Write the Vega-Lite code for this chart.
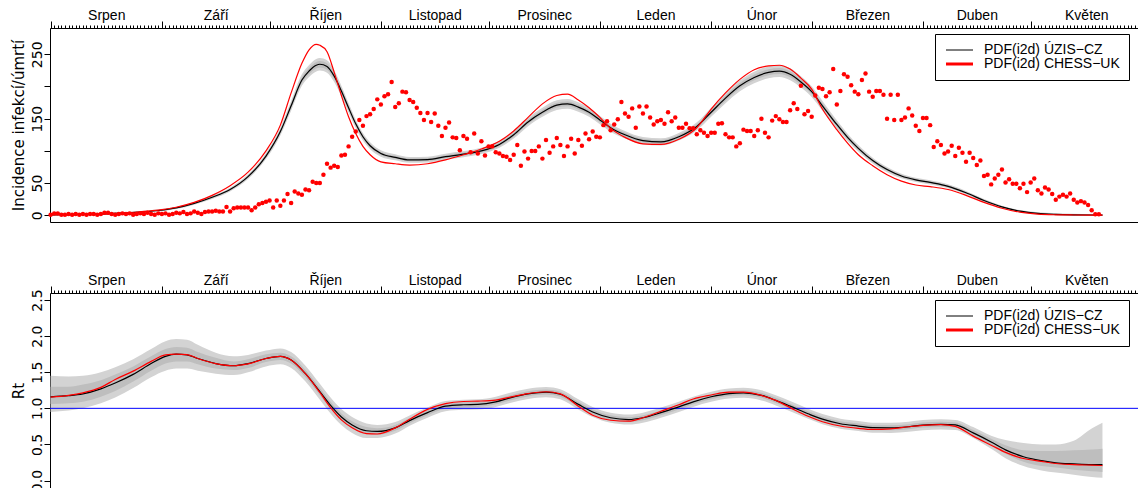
{
  "$schema": "https://vega.github.io/schema/vega-lite/v6.json",
  "padding": {"left": 10, "top": 8, "right": 0, "bottom": 0},
  "spacing": 71,
  "bounds": "flush",
  "config": {
    "font": "Liberation Sans",
    "view": {"stroke": null},
    "axis": {"grid": false, "domainColor": "black", "tickColor": "black", "labelColor": "black", "titleColor": "black", "labelFont": "Liberation Sans", "titleFont": "Liberation Sans", "labelFontSize": 14, "titleFontSize": 14, "titleFontWeight": "normal", "domainWidth": 1, "tickWidth": 1, "labelFlush": false, "labelOverlap": false, "labelBound": false},
    "axisY": {"labelFont": "DejaVu Sans", "labelFontSize": 14, "titleFont": "DejaVu Sans", "titleFontSize": 15}
  },
  "resolve": {"scale": {"color": "independent"}},
  "datasets": {
    "inc": [
      {"date":"2020-08-01","blk":0.8,"red":0.8,"olo":-0.7,"ohi":2.3,"ilo":0.1,"ihi":1.5},
      {"date":"2020-08-06","blk":1.0,"red":1.0,"olo":-0.5,"ohi":2.5,"ilo":0.3,"ihi":1.7},
      {"date":"2020-08-11","blk":1.5,"red":1.5,"olo":-0.1,"ohi":3.1,"ilo":0.8,"ihi":2.2},
      {"date":"2020-08-16","blk":2.2,"red":2.3,"olo":0.6,"ohi":3.8,"ilo":1.5,"ihi":2.9},
      {"date":"2020-08-21","blk":3.3,"red":3.5,"olo":1.7,"ohi":4.9,"ilo":2.5,"ihi":4.1},
      {"date":"2020-08-26","blk":5.0,"red":5.5,"olo":3.3,"ohi":6.7,"ilo":4.2,"ihi":5.8},
      {"date":"2020-08-31","blk":7.5,"red":8.0,"olo":5.7,"ohi":9.3,"ilo":6.7,"ihi":8.3},
      {"date":"2020-09-05","blk":11.5,"red":12.5,"olo":9.6,"ohi":13.4,"ilo":10.6,"ihi":12.4},
      {"date":"2020-09-10","blk":18.5,"red":20,"olo":16.4,"ohi":20.7,"ilo":17.5,"ihi":19.5},
      {"date":"2020-09-15","blk":28,"red":31,"olo":25.5,"ohi":30.5,"ilo":26.8,"ihi":29.2},
      {"date":"2020-09-20","blk":40,"red":46,"olo":37.1,"ohi":42.9,"ilo":38.6,"ihi":41.4},
      {"date":"2020-09-25","blk":60,"red":67,"olo":56.4,"ohi":63.6,"ilo":58.2,"ihi":61.8},
      {"date":"2020-09-30","blk":92,"red":100,"olo":87.3,"ohi":96.7,"ilo":89.6,"ihi":94.4},
      {"date":"2020-10-04","blk":130,"red":140,"olo":124,"ohi":136,"ilo":127,"ihi":133},
      {"date":"2020-10-07","blk":170,"red":190,"olo":162.5,"ohi":177.5,"ilo":166.2,"ihi":173.8},
      {"date":"2020-10-10","blk":210,"red":236,"olo":201.2,"ohi":218.9,"ilo":205.5,"ihi":214.5},
      {"date":"2020-10-12","blk":224,"red":257,"olo":214.7,"ohi":233.3,"ilo":219.3,"ihi":228.7},
      {"date":"2020-10-14","blk":233,"red":265.5,"olo":223.3,"ohi":242.7,"ilo":228.1,"ihi":237.9},
      {"date":"2020-10-15","blk":234.5,"red":264,"olo":224.8,"ohi":244.2,"ilo":229.6,"ihi":239.4},
      {"date":"2020-10-17","blk":231,"red":254,"olo":221.4,"ohi":240.6,"ilo":226.1,"ihi":235.9},
      {"date":"2020-10-19","blk":216,"red":222,"olo":206.9,"ohi":225.1,"ilo":211.4,"ihi":220.6},
      {"date":"2020-10-21","blk":193,"red":186,"olo":184.7,"ohi":201.3,"ilo":188.8,"ihi":197.2},
      {"date":"2020-10-23","blk":167,"red":153,"olo":159.7,"ohi":174.4,"ilo":163.3,"ihi":170.7},
      {"date":"2020-10-25","blk":142,"red":127,"olo":135.5,"ohi":148.5,"ilo":138.7,"ihi":145.3},
      {"date":"2020-10-27","blk":122,"red":107,"olo":116.2,"ohi":127.8,"ilo":119.1,"ihi":124.9},
      {"date":"2020-10-29","blk":108,"red":94,"olo":102.7,"ohi":113.3,"ilo":105.4,"ihi":110.6},
      {"date":"2020-11-01","blk":96,"red":83,"olo":91.1,"ohi":100.9,"ilo":93.6,"ihi":98.4},
      {"date":"2020-11-05","blk":90,"red":80,"olo":85.4,"ohi":94.7,"ilo":87.7,"ihi":92.3},
      {"date":"2020-11-09","blk":86,"red":78,"olo":81.5,"ohi":90.5,"ilo":83.8,"ihi":88.3},
      {"date":"2020-11-14","blk":86.5,"red":80,"olo":82,"ohi":91,"ilo":84.2,"ihi":88.8},
      {"date":"2020-11-19","blk":91,"red":86,"olo":86.3,"ohi":95.7,"ilo":88.7,"ihi":93.3},
      {"date":"2020-11-24","blk":95,"red":94,"olo":90.2,"ohi":99.8,"ilo":92.6,"ihi":97.4},
      {"date":"2020-11-29","blk":100,"red":103,"olo":95,"ohi":105,"ilo":97.5,"ihi":102.5},
      {"date":"2020-12-04","blk":110,"red":115,"olo":104.7,"ohi":115.4,"ilo":107.3,"ihi":112.7},
      {"date":"2020-12-08","blk":125,"red":131,"olo":119.1,"ohi":130.9,"ilo":122,"ihi":128},
      {"date":"2020-12-12","blk":145,"red":152,"olo":138.4,"ohi":151.6,"ilo":141.7,"ihi":148.3},
      {"date":"2020-12-16","blk":160,"red":173,"olo":152.9,"ohi":167.1,"ilo":156.4,"ihi":163.6},
      {"date":"2020-12-20","blk":171,"red":186,"olo":163.5,"ohi":178.5,"ilo":167.2,"ihi":174.8},
      {"date":"2020-12-23","blk":173,"red":188,"olo":165.4,"ohi":180.6,"ilo":169.2,"ihi":176.8},
      {"date":"2020-12-26","blk":168,"red":179,"olo":160.6,"ohi":175.4,"ilo":164.3,"ihi":171.7},
      {"date":"2020-12-29","blk":160,"red":167,"olo":152.9,"ohi":167.1,"ilo":156.4,"ihi":163.6},
      {"date":"2021-01-01","blk":148,"red":152,"olo":141.3,"ohi":154.7,"ilo":144.6,"ihi":151.4},
      {"date":"2021-01-04","blk":136,"red":135,"olo":129.7,"ohi":142.3,"ilo":132.9,"ihi":139.1},
      {"date":"2021-01-08","blk":125,"red":121,"olo":119.1,"ohi":130.9,"ilo":122,"ihi":128},
      {"date":"2021-01-13","blk":116,"red":111,"olo":110.4,"ohi":121.6,"ilo":113.2,"ihi":118.8},
      {"date":"2021-01-18","blk":114,"red":110,"olo":108.5,"ohi":119.5,"ilo":111.3,"ihi":116.8},
      {"date":"2021-01-23","blk":122,"red":118,"olo":116.2,"ohi":127.8,"ilo":119.1,"ihi":124.9},
      {"date":"2021-01-28","blk":138,"red":136,"olo":131.7,"ohi":144.3,"ilo":134.8,"ihi":141.2},
      {"date":"2021-02-01","blk":160,"red":165,"olo":152.9,"ohi":167.1,"ilo":156.4,"ihi":163.6},
      {"date":"2021-02-05","blk":182,"red":190,"olo":174.1,"ohi":189.9,"ilo":178,"ihi":186},
      {"date":"2021-02-09","blk":201,"red":211,"olo":192.5,"ohi":209.5,"ilo":196.7,"ihi":205.3},
      {"date":"2021-02-13","blk":214,"red":226,"olo":205,"ohi":223,"ilo":209.5,"ihi":218.6},
      {"date":"2021-02-17","blk":222,"red":232,"olo":212.7,"ohi":231.3,"ilo":217.3,"ihi":226.7},
      {"date":"2021-02-20","blk":224,"red":233,"olo":214.7,"ohi":233.3,"ilo":219.3,"ihi":228.7},
      {"date":"2021-02-23","blk":219,"red":227,"olo":209.8,"ohi":228.2,"ilo":214.4,"ihi":223.6},
      {"date":"2021-02-26","blk":207,"red":213,"olo":198.3,"ohi":215.8,"ilo":202.6,"ihi":211.4},
      {"date":"2021-03-01","blk":192,"red":196,"olo":183.8,"ohi":200.2,"ilo":187.8,"ihi":196.2},
      {"date":"2021-03-04","blk":170,"red":165,"olo":162.5,"ohi":177.5,"ilo":166.2,"ihi":173.8},
      {"date":"2021-03-08","blk":141,"red":133,"olo":134.6,"ohi":147.4,"ilo":137.8,"ihi":144.2},
      {"date":"2021-03-11","blk":121,"red":112,"olo":115.3,"ohi":126.7,"ilo":118.1,"ihi":123.9},
      {"date":"2021-03-14","blk":104,"red":94,"olo":98.9,"ohi":109.1,"ilo":101.4,"ihi":106.6},
      {"date":"2021-03-18","blk":85,"red":77,"olo":80.5,"ohi":89.5,"ilo":82.8,"ihi":87.2},
      {"date":"2021-03-22","blk":71,"red":63,"olo":67,"ohi":75,"ilo":69,"ihi":73},
      {"date":"2021-03-26","blk":61,"red":53,"olo":57.4,"ohi":64.6,"ilo":59.2,"ihi":62.8},
      {"date":"2021-03-30","blk":55,"red":47,"olo":51.6,"ohi":58.4,"ilo":53.3,"ihi":56.7},
      {"date":"2021-04-03","blk":51,"red":44.5,"olo":47.7,"ohi":54.3,"ilo":49.4,"ihi":52.6},
      {"date":"2021-04-08","blk":45,"red":40,"olo":41.9,"ohi":48.1,"ilo":43.5,"ihi":46.5},
      {"date":"2021-04-13","blk":35,"red":31,"olo":32.3,"ohi":37.7,"ilo":33.7,"ihi":36.3},
      {"date":"2021-04-18","blk":23,"red":20,"olo":20.7,"ohi":25.3,"ilo":21.9,"ihi":24.1},
      {"date":"2021-04-23","blk":13,"red":11,"olo":11,"ohi":15,"ilo":12.1,"ihi":13.9},
      {"date":"2021-04-28","blk":6.5,"red":4.8,"olo":4.8,"ohi":8.2,"ilo":5.7,"ihi":7.3},
      {"date":"2021-05-03","blk":3,"red":1.8,"olo":1.4,"ohi":4.6,"ilo":2.3,"ihi":3.8},
      {"date":"2021-05-08","blk":1.5,"red":0.8,"olo":-0.1,"ohi":3.1,"ilo":0.8,"ihi":2.2},
      {"date":"2021-05-13","blk":0.8,"red":0.5,"olo":-0.7,"ohi":2.3,"ilo":0.1,"ihi":1.5},
      {"date":"2021-05-18","blk":0.5,"red":0.4,"olo":-1,"ohi":2,"ilo":-0.2,"ihi":1.2},
      {"date":"2021-05-21","blk":0.4,"red":0.3,"olo":-1.1,"ohi":1.9,"ilo":-0.3,"ihi":1.1}
    ],
    "rt": [
      {"date":"2020-08-01","blk":1.16,"red":1.155,"olo":0.95,"ohi":1.45,"ilo":1.06,"ihi":1.30},
      {"date":"2020-08-06","blk":1.175,"red":1.18,"olo":0.97,"ohi":1.44,"ilo":1.07,"ihi":1.30},
      {"date":"2020-08-10","blk":1.20,"red":1.215,"olo":1.00,"ohi":1.45,"ilo":1.09,"ihi":1.33},
      {"date":"2020-08-15","blk":1.27,"red":1.29,"olo":1.07,"ohi":1.50,"ilo":1.16,"ihi":1.39},
      {"date":"2020-08-19","blk":1.35,"red":1.40,"olo":1.15,"ohi":1.57,"ilo":1.24,"ihi":1.47},
      {"date":"2020-08-24","blk":1.47,"red":1.515,"olo":1.28,"ohi":1.68,"ilo":1.37,"ihi":1.58},
      {"date":"2020-08-29","blk":1.62,"red":1.65,"olo":1.43,"ohi":1.82,"ilo":1.52,"ihi":1.72},
      {"date":"2020-09-02","blk":1.72,"red":1.74,"olo":1.52,"ohi":1.93,"ilo":1.62,"ihi":1.82},
      {"date":"2020-09-05","blk":1.75,"red":1.75,"olo":1.55,"ohi":1.96,"ilo":1.65,"ihi":1.85},
      {"date":"2020-09-08","blk":1.74,"red":1.745,"olo":1.55,"ohi":1.95,"ilo":1.65,"ihi":1.84},
      {"date":"2020-09-11","blk":1.69,"red":1.69,"olo":1.52,"ohi":1.88,"ilo":1.61,"ihi":1.78},
      {"date":"2020-09-16","blk":1.62,"red":1.62,"olo":1.48,"ohi":1.77,"ilo":1.55,"ihi":1.70},
      {"date":"2020-09-21","blk":1.59,"red":1.59,"olo":1.46,"ohi":1.72,"ilo":1.53,"ihi":1.65},
      {"date":"2020-09-25","blk":1.62,"red":1.615,"olo":1.50,"ohi":1.74,"ilo":1.56,"ihi":1.68},
      {"date":"2020-09-30","blk":1.69,"red":1.69,"olo":1.58,"ohi":1.80,"ilo":1.64,"ihi":1.75},
      {"date":"2020-10-04","blk":1.72,"red":1.72,"olo":1.61,"ohi":1.83,"ilo":1.67,"ihi":1.77},
      {"date":"2020-10-07","blk":1.67,"red":1.67,"olo":1.56,"ohi":1.78,"ilo":1.62,"ihi":1.72},
      {"date":"2020-10-11","blk":1.48,"red":1.48,"olo":1.37,"ohi":1.59,"ilo":1.43,"ihi":1.53},
      {"date":"2020-10-15","blk":1.23,"red":1.22,"olo":1.12,"ohi":1.34,"ilo":1.18,"ihi":1.28},
      {"date":"2020-10-18","blk":1.04,"red":1.01,"olo":0.93,"ohi":1.15,"ilo":0.99,"ihi":1.09},
      {"date":"2020-10-21","blk":0.88,"red":0.84,"olo":0.77,"ohi":0.99,"ilo":0.83,"ihi":0.93},
      {"date":"2020-10-24","blk":0.77,"red":0.73,"olo":0.66,"ohi":0.88,"ilo":0.72,"ihi":0.82},
      {"date":"2020-10-28","blk":0.69,"red":0.65,"olo":0.59,"ohi":0.79,"ilo":0.64,"ihi":0.74},
      {"date":"2020-10-31","blk":0.68,"red":0.645,"olo":0.59,"ohi":0.77,"ilo":0.635,"ihi":0.725},
      {"date":"2020-11-05","blk":0.73,"red":0.73,"olo":0.65,"ohi":0.81,"ilo":0.69,"ihi":0.77},
      {"date":"2020-11-09","blk":0.83,"red":0.85,"olo":0.76,"ohi":0.90,"ilo":0.795,"ihi":0.865},
      {"date":"2020-11-14","blk":0.94,"red":0.985,"olo":0.87,"ohi":1.01,"ilo":0.905,"ihi":0.975},
      {"date":"2020-11-19","blk":1.03,"red":1.065,"olo":0.96,"ohi":1.10,"ilo":0.995,"ihi":1.065},
      {"date":"2020-11-24","blk":1.05,"red":1.095,"olo":0.98,"ohi":1.12,"ilo":1.015,"ihi":1.085},
      {"date":"2020-11-28","blk":1.055,"red":1.10,"olo":0.985,"ohi":1.125,"ilo":1.02,"ihi":1.09},
      {"date":"2020-12-03","blk":1.09,"red":1.115,"olo":1.02,"ohi":1.16,"ilo":1.055,"ihi":1.125},
      {"date":"2020-12-07","blk":1.145,"red":1.155,"olo":1.075,"ohi":1.215,"ilo":1.11,"ihi":1.18},
      {"date":"2020-12-12","blk":1.20,"red":1.205,"olo":1.13,"ohi":1.27,"ilo":1.165,"ihi":1.235},
      {"date":"2020-12-17","blk":1.225,"red":1.23,"olo":1.155,"ohi":1.295,"ilo":1.19,"ihi":1.26},
      {"date":"2020-12-21","blk":1.195,"red":1.20,"olo":1.125,"ohi":1.265,"ilo":1.16,"ihi":1.23},
      {"date":"2020-12-26","blk":1.055,"red":1.03,"olo":0.985,"ohi":1.125,"ilo":1.02,"ihi":1.09},
      {"date":"2020-12-30","blk":0.95,"red":0.905,"olo":0.88,"ohi":1.02,"ilo":0.915,"ihi":0.985},
      {"date":"2021-01-04","blk":0.87,"red":0.835,"olo":0.80,"ohi":0.94,"ilo":0.835,"ihi":0.905},
      {"date":"2021-01-09","blk":0.845,"red":0.822,"olo":0.775,"ohi":0.915,"ilo":0.81,"ihi":0.88},
      {"date":"2021-01-13","blk":0.87,"red":0.87,"olo":0.80,"ohi":0.94,"ilo":0.835,"ihi":0.905},
      {"date":"2021-01-18","blk":0.94,"red":0.96,"olo":0.87,"ohi":1.01,"ilo":0.905,"ihi":0.975},
      {"date":"2021-01-23","blk":1.02,"red":1.05,"olo":0.95,"ohi":1.09,"ilo":0.985,"ihi":1.055},
      {"date":"2021-01-27","blk":1.09,"red":1.13,"olo":1.02,"ohi":1.16,"ilo":1.055,"ihi":1.125},
      {"date":"2021-02-01","blk":1.16,"red":1.185,"olo":1.09,"ohi":1.23,"ilo":1.125,"ihi":1.195},
      {"date":"2021-02-06","blk":1.205,"red":1.225,"olo":1.135,"ohi":1.275,"ilo":1.17,"ihi":1.24},
      {"date":"2021-02-10","blk":1.215,"red":1.225,"olo":1.145,"ohi":1.285,"ilo":1.18,"ihi":1.25},
      {"date":"2021-02-15","blk":1.18,"red":1.18,"olo":1.11,"ohi":1.25,"ilo":1.145,"ihi":1.215},
      {"date":"2021-02-19","blk":1.11,"red":1.11,"olo":1.04,"ohi":1.18,"ilo":1.075,"ihi":1.145},
      {"date":"2021-02-23","blk":1.03,"red":1.01,"olo":0.96,"ohi":1.10,"ilo":0.995,"ihi":1.065},
      {"date":"2021-02-28","blk":0.925,"red":0.89,"olo":0.855,"ohi":0.995,"ilo":0.89,"ihi":0.96},
      {"date":"2021-03-04","blk":0.85,"red":0.815,"olo":0.78,"ohi":0.92,"ilo":0.815,"ihi":0.885},
      {"date":"2021-03-09","blk":0.787,"red":0.755,"olo":0.717,"ohi":0.857,"ilo":0.752,"ihi":0.822},
      {"date":"2021-03-14","blk":0.755,"red":0.722,"olo":0.685,"ohi":0.825,"ilo":0.72,"ihi":0.79},
      {"date":"2021-03-18","blk":0.732,"red":0.708,"olo":0.662,"ohi":0.802,"ilo":0.697,"ihi":0.767},
      {"date":"2021-03-23","blk":0.73,"red":0.715,"olo":0.66,"ohi":0.80,"ilo":0.695,"ihi":0.765},
      {"date":"2021-03-28","blk":0.745,"red":0.745,"olo":0.675,"ohi":0.815,"ilo":0.71,"ihi":0.78},
      {"date":"2021-04-01","blk":0.768,"red":0.765,"olo":0.698,"ohi":0.838,"ilo":0.733,"ihi":0.803},
      {"date":"2021-04-06","blk":0.778,"red":0.775,"olo":0.708,"ohi":0.848,"ilo":0.743,"ihi":0.813},
      {"date":"2021-04-10","blk":0.77,"red":0.75,"olo":0.70,"ohi":0.84,"ilo":0.735,"ihi":0.805},
      {"date":"2021-04-15","blk":0.66,"red":0.615,"olo":0.59,"ohi":0.74,"ilo":0.625,"ihi":0.70},
      {"date":"2021-04-20","blk":0.535,"red":0.49,"olo":0.44,"ohi":0.62,"ilo":0.49,"ihi":0.58},
      {"date":"2021-04-24","blk":0.425,"red":0.39,"olo":0.31,"ohi":0.56,"ilo":0.37,"ihi":0.49},
      {"date":"2021-04-29","blk":0.33,"red":0.305,"olo":0.20,"ohi":0.52,"ilo":0.26,"ihi":0.42},
      {"date":"2021-05-04","blk":0.275,"red":0.265,"olo":0.14,"ohi":0.50,"ilo":0.20,"ihi":0.41},
      {"date":"2021-05-08","blk":0.245,"red":0.236,"olo":0.11,"ohi":0.50,"ilo":0.18,"ihi":0.41},
      {"date":"2021-05-13","blk":0.231,"red":0.222,"olo":0.08,"ohi":0.55,"ilo":0.15,"ihi":0.42},
      {"date":"2021-05-18","blk":0.222,"red":0.213,"olo":0.05,"ohi":0.72,"ilo":0.13,"ihi":0.43},
      {"date":"2021-05-21","blk":0.222,"red":0.208,"olo":0.04,"ohi":0.80,"ilo":0.12,"ihi":0.44}
    ],
    "dots": [
      {"date":"2020-08-01","value":1},{"date":"2020-08-02","value":3},{"date":"2020-08-03","value":3},{"date":"2020-08-04","value":1},{"date":"2020-08-05","value":1},{"date":"2020-08-06","value":2},{"date":"2020-08-07","value":1},{"date":"2020-08-08","value":2},{"date":"2020-08-09","value":1},{"date":"2020-08-10","value":2},{"date":"2020-08-11","value":1},{"date":"2020-08-12","value":2},{"date":"2020-08-13","value":2},{"date":"2020-08-14","value":1},{"date":"2020-08-15","value":2},{"date":"2020-08-16","value":4},{"date":"2020-08-17","value":4},{"date":"2020-08-18","value":2},{"date":"2020-08-19","value":1},{"date":"2020-08-20","value":2},{"date":"2020-08-21","value":3},{"date":"2020-08-22","value":2},{"date":"2020-08-23","value":3},{"date":"2020-08-24","value":1},{"date":"2020-08-25","value":2},{"date":"2020-08-26","value":3},{"date":"2020-08-27","value":2},{"date":"2020-08-28","value":4},{"date":"2020-08-29","value":2},{"date":"2020-08-30","value":1},{"date":"2020-08-31","value":3},
      {"date":"2020-09-01","value":2},{"date":"2020-09-02","value":3},{"date":"2020-09-03","value":1},{"date":"2020-09-04","value":2},{"date":"2020-09-05","value":4},{"date":"2020-09-06","value":3},{"date":"2020-09-07","value":5},{"date":"2020-09-08","value":2},{"date":"2020-09-09","value":3},{"date":"2020-09-10","value":6},{"date":"2020-09-11","value":4},{"date":"2020-09-12","value":2},{"date":"2020-09-13","value":5},{"date":"2020-09-14","value":6},{"date":"2020-09-15","value":6},{"date":"2020-09-16","value":7},{"date":"2020-09-17","value":6},{"date":"2020-09-18","value":6},{"date":"2020-09-19","value":13},{"date":"2020-09-20","value":6},{"date":"2020-09-21","value":11},{"date":"2020-09-22","value":12},{"date":"2020-09-23","value":12},{"date":"2020-09-24","value":12},{"date":"2020-09-25","value":12},{"date":"2020-09-26","value":8},{"date":"2020-09-27","value":12},{"date":"2020-09-28","value":17},{"date":"2020-09-29","value":19},{"date":"2020-09-30","value":21},
      {"date":"2020-10-01","value":23},{"date":"2020-10-02","value":12},{"date":"2020-10-03","value":23},{"date":"2020-10-04","value":15},{"date":"2020-10-05","value":23},{"date":"2020-10-06","value":33},{"date":"2020-10-07","value":19},{"date":"2020-10-08","value":37},{"date":"2020-10-09","value":34},{"date":"2020-10-10","value":32},{"date":"2020-10-11","value":40},{"date":"2020-10-12","value":39},{"date":"2020-10-13","value":52},{"date":"2020-10-14","value":50},{"date":"2020-10-15","value":50},{"date":"2020-10-16","value":63},{"date":"2020-10-17","value":80},{"date":"2020-10-18","value":74},{"date":"2020-10-19","value":77},{"date":"2020-10-20","value":75},{"date":"2020-10-21","value":93},{"date":"2020-10-22","value":94},{"date":"2020-10-23","value":107},{"date":"2020-10-24","value":122},{"date":"2020-10-25","value":130},{"date":"2020-10-26","value":148},{"date":"2020-10-27","value":139},{"date":"2020-10-28","value":154},{"date":"2020-10-29","value":157},{"date":"2020-10-30","value":165},{"date":"2020-10-31","value":180},
      {"date":"2020-11-01","value":172},{"date":"2020-11-02","value":185},{"date":"2020-11-03","value":188},{"date":"2020-11-04","value":207},{"date":"2020-11-05","value":168},{"date":"2020-11-06","value":174},{"date":"2020-11-07","value":192},{"date":"2020-11-08","value":191},{"date":"2020-11-09","value":179},{"date":"2020-11-10","value":176},{"date":"2020-11-11","value":167},{"date":"2020-11-12","value":159},{"date":"2020-11-13","value":148},{"date":"2020-11-14","value":159},{"date":"2020-11-15","value":145},{"date":"2020-11-16","value":158},{"date":"2020-11-17","value":139},{"date":"2020-11-18","value":123},{"date":"2020-11-19","value":136},{"date":"2020-11-20","value":144},{"date":"2020-11-21","value":121},{"date":"2020-11-22","value":120},{"date":"2020-11-23","value":101},{"date":"2020-11-24","value":123},{"date":"2020-11-25","value":119},{"date":"2020-11-26","value":98},{"date":"2020-11-27","value":127},{"date":"2020-11-28","value":96},{"date":"2020-11-29","value":115},{"date":"2020-11-30","value":93},
      {"date":"2020-12-01","value":107},{"date":"2020-12-02","value":107},{"date":"2020-12-03","value":98},{"date":"2020-12-04","value":96},{"date":"2020-12-05","value":92},{"date":"2020-12-06","value":91},{"date":"2020-12-07","value":86},{"date":"2020-12-08","value":94},{"date":"2020-12-09","value":109},{"date":"2020-12-10","value":77},{"date":"2020-12-11","value":99},{"date":"2020-12-12","value":88},{"date":"2020-12-13","value":100},{"date":"2020-12-14","value":100},{"date":"2020-12-15","value":107},{"date":"2020-12-16","value":88},{"date":"2020-12-17","value":117},{"date":"2020-12-18","value":97},{"date":"2020-12-19","value":107},{"date":"2020-12-20","value":120},{"date":"2020-12-21","value":109},{"date":"2020-12-22","value":92},{"date":"2020-12-23","value":107},{"date":"2020-12-24","value":119},{"date":"2020-12-25","value":96},{"date":"2020-12-26","value":117},{"date":"2020-12-27","value":108},{"date":"2020-12-28","value":127},{"date":"2020-12-29","value":118},{"date":"2020-12-30","value":130},{"date":"2020-12-31","value":122},
      {"date":"2021-01-01","value":121},{"date":"2021-01-02","value":140},{"date":"2021-01-03","value":146},{"date":"2021-01-04","value":132},{"date":"2021-01-05","value":141},{"date":"2021-01-06","value":149},{"date":"2021-01-07","value":176},{"date":"2021-01-08","value":158},{"date":"2021-01-09","value":153},{"date":"2021-01-10","value":166},{"date":"2021-01-11","value":136},{"date":"2021-01-12","value":169},{"date":"2021-01-13","value":158},{"date":"2021-01-14","value":169},{"date":"2021-01-15","value":152},{"date":"2021-01-16","value":141},{"date":"2021-01-17","value":146},{"date":"2021-01-18","value":148},{"date":"2021-01-19","value":142},{"date":"2021-01-20","value":160},{"date":"2021-01-21","value":146},{"date":"2021-01-22","value":152},{"date":"2021-01-23","value":136},{"date":"2021-01-24","value":136},{"date":"2021-01-25","value":142},{"date":"2021-01-26","value":135},{"date":"2021-01-27","value":135},{"date":"2021-01-28","value":126},{"date":"2021-01-29","value":132},{"date":"2021-01-30","value":128},{"date":"2021-01-31","value":123},
      {"date":"2021-02-01","value":128},{"date":"2021-02-02","value":128},{"date":"2021-02-03","value":142},{"date":"2021-02-04","value":143},{"date":"2021-02-05","value":126},{"date":"2021-02-06","value":121},{"date":"2021-02-07","value":121},{"date":"2021-02-08","value":107},{"date":"2021-02-09","value":112},{"date":"2021-02-10","value":133},{"date":"2021-02-11","value":131},{"date":"2021-02-12","value":131},{"date":"2021-02-13","value":123},{"date":"2021-02-14","value":132},{"date":"2021-02-15","value":150},{"date":"2021-02-16","value":128},{"date":"2021-02-17","value":121},{"date":"2021-02-18","value":147},{"date":"2021-02-19","value":154},{"date":"2021-02-20","value":149},{"date":"2021-02-21","value":145},{"date":"2021-02-22","value":145},{"date":"2021-02-23","value":163},{"date":"2021-02-24","value":174},{"date":"2021-02-25","value":165},{"date":"2021-02-26","value":201},{"date":"2021-02-27","value":157},{"date":"2021-02-28","value":162},
      {"date":"2021-03-01","value":153},{"date":"2021-03-02","value":186},{"date":"2021-03-03","value":198},{"date":"2021-03-04","value":196},{"date":"2021-03-05","value":185},{"date":"2021-03-06","value":191},{"date":"2021-03-07","value":227},{"date":"2021-03-08","value":172},{"date":"2021-03-09","value":193},{"date":"2021-03-10","value":219},{"date":"2021-03-11","value":215},{"date":"2021-03-12","value":202},{"date":"2021-03-13","value":192},{"date":"2021-03-14","value":188},{"date":"2021-03-15","value":210},{"date":"2021-03-16","value":220},{"date":"2021-03-17","value":192},{"date":"2021-03-18","value":184},{"date":"2021-03-19","value":193},{"date":"2021-03-20","value":193},{"date":"2021-03-21","value":187},{"date":"2021-03-22","value":150},{"date":"2021-03-23","value":187},{"date":"2021-03-24","value":148},{"date":"2021-03-25","value":187},{"date":"2021-03-26","value":148},{"date":"2021-03-27","value":152},{"date":"2021-03-28","value":166},{"date":"2021-03-29","value":155},{"date":"2021-03-30","value":139},{"date":"2021-03-31","value":131},
      {"date":"2021-04-01","value":151},{"date":"2021-04-02","value":151},{"date":"2021-04-03","value":140},{"date":"2021-04-04","value":106},{"date":"2021-04-05","value":115},{"date":"2021-04-06","value":109},{"date":"2021-04-07","value":96},{"date":"2021-04-08","value":99},{"date":"2021-04-09","value":108},{"date":"2021-04-10","value":92},{"date":"2021-04-11","value":105},{"date":"2021-04-12","value":97},{"date":"2021-04-13","value":83},{"date":"2021-04-14","value":97},{"date":"2021-04-15","value":89},{"date":"2021-04-16","value":78},{"date":"2021-04-17","value":85},{"date":"2021-04-18","value":61},{"date":"2021-04-19","value":63},{"date":"2021-04-20","value":48},{"date":"2021-04-21","value":57},{"date":"2021-04-22","value":63},{"date":"2021-04-23","value":71},{"date":"2021-04-24","value":51},{"date":"2021-04-25","value":56},{"date":"2021-04-26","value":49},{"date":"2021-04-27","value":49},{"date":"2021-04-28","value":42},{"date":"2021-04-29","value":49},{"date":"2021-04-30","value":36},
      {"date":"2021-05-01","value":51},{"date":"2021-05-02","value":57},{"date":"2021-05-03","value":39},{"date":"2021-05-04","value":34},{"date":"2021-05-05","value":43},{"date":"2021-05-06","value":40},{"date":"2021-05-07","value":33},{"date":"2021-05-08","value":24},{"date":"2021-05-09","value":29},{"date":"2021-05-10","value":32},{"date":"2021-05-11","value":29},{"date":"2021-05-12","value":34},{"date":"2021-05-13","value":24},{"date":"2021-05-14","value":20},{"date":"2021-05-15","value":22},{"date":"2021-05-16","value":20},{"date":"2021-05-17","value":16},{"date":"2021-05-18","value":8},{"date":"2021-05-19","value":1.5},{"date":"2021-05-20","value":1.5}
    ]
  },
  "vconcat": [
    {
      "width": 1088,
      "height": 194,
      "data": {"name": "inc"},
      "resolve": {"axis": {"x": "independent"}},
      "layer": [
        {
          "mark": {"type": "area", "color": "#d3d3d3", "interpolate": "monotone"},
          "encoding": {
            "x": {"field": "date", "type": "temporal", "scale": {"type": "utc", "domain": [{"year": 2020, "month": 7, "date": 31, "hours": 20, "utc": true}, {"year": 2021, "month": 5, "date": 30, "hours": 21, "minutes": 36, "utc": true}]}, "axis": {"orient": "top", "tickCount": {"interval": "day", "step": 1}, "labels": false, "tickSize": 3, "domain": true, "title": null}},
            "y": {"field": "olo", "type": "quantitative", "scale": {"domain": [-10.4, 290.8], "nice": false, "zero": false}, "title": "Incidence infekcí/úmrtí", "axis": {"values": [0, 50, 100, 150, 200, 250], "labelExpr": "datum.value == 100 || datum.value == 200 ? '' : datum.label", "labelOverlap": false, "labelAngle": -90, "labelAlign": "center", "labelBaseline": "alphabetic", "labelPadding": 3, "tickSize": 6, "titlePadding": 4}},
            "y2": {"field": "ohi"}
          }
        },
        {
          "mark": {"type": "area", "color": "#bebebe", "interpolate": "monotone"},
          "encoding": {
            "x": {"field": "date", "type": "temporal", "scale": {"type": "utc", "domain": [{"year": 2020, "month": 7, "date": 31, "hours": 20, "utc": true}, {"year": 2021, "month": 5, "date": 30, "hours": 21, "minutes": 36, "utc": true}]}, "axis": {"orient": "top", "tickCount": {"interval": "month", "step": 1}, "labels": false, "tickSize": 7, "domain": false, "title": null}},
            "y": {"field": "ilo", "type": "quantitative", "scale": {"domain": [-10.4, 290.8], "nice": false, "zero": false}, "title": "Incidence infekcí/úmrtí", "axis": {"values": [0, 50, 100, 150, 200, 250], "labelExpr": "datum.value == 100 || datum.value == 200 ? '' : datum.label", "labelOverlap": false, "labelAngle": -90, "labelAlign": "center", "labelBaseline": "alphabetic", "labelPadding": 3, "tickSize": 6, "titlePadding": 4}},
            "y2": {"field": "ihi"}
          }
        },
        {
          "mark": {"type": "line", "interpolate": "monotone", "strokeWidth": 1.2},
          "encoding": {
            "x": {"field": "date", "type": "temporal", "scale": {"type": "utc", "domain": [{"year": 2020, "month": 7, "date": 31, "hours": 20, "utc": true}, {"year": 2021, "month": 5, "date": 30, "hours": 21, "minutes": 36, "utc": true}]}, "axis": {"orient": "top", "values": [{"year": 2020, "month": 8, "date": 16, "hours": 12, "utc": true}, {"year": 2020, "month": 9, "date": 16, "utc": true}, {"year": 2020, "month": 10, "date": 16, "hours": 12, "utc": true}, {"year": 2020, "month": 11, "date": 16, "utc": true}, {"year": 2020, "month": 12, "date": 16, "hours": 12, "utc": true}, {"year": 2021, "month": 1, "date": 16, "hours": 12, "utc": true}, {"year": 2021, "month": 2, "date": 15, "utc": true}, {"year": 2021, "month": 3, "date": 16, "hours": 12, "utc": true}, {"year": 2021, "month": 4, "date": 16, "utc": true}, {"year": 2021, "month": 5, "date": 16, "hours": 12, "utc": true}], "labelExpr": "['Leden','Únor','Březen','Duben','Květen','Červen','Červenec','Srpen','Září','Říjen','Listopad','Prosinec'][utcmonth(datum.value)]", "ticks": false, "domain": false, "labelPadding": 9, "labelBaseline": "alphabetic", "title": null}},
            "y": {"field": "blk", "type": "quantitative", "scale": {"domain": [-10.4, 290.8], "nice": false, "zero": false}, "title": "Incidence infekcí/úmrtí", "axis": {"values": [0, 50, 100, 150, 200, 250], "labelExpr": "datum.value == 100 || datum.value == 200 ? '' : datum.label", "labelOverlap": false, "labelAngle": -90, "labelAlign": "center", "labelBaseline": "alphabetic", "labelPadding": 3, "tickSize": 6, "titlePadding": 4}},
            "color": {"datum": "PDF(i2d) ÚZIS−CZ", "type": "nominal", "scale": {"domain": ["PDF(i2d) ÚZIS−CZ", "PDF(i2d) CHESS−UK"], "range": ["black", "red"]}, "legend": {"orient": "none", "legendX": 885, "legendY": 6, "title": null, "fillColor": "white", "strokeColor": "black", "padding": 9, "symbolType": "M-1.5,0H1.5", "symbolSize": 324, "symbolStrokeWidth": 1.2, "symbolOffset": 8.5, "labelFontSize": 14, "labelOffset": 17.5, "labelColor": "black", "labelLimit": 300, "rowPadding": 0, "encode": {"symbols": {"update": {"strokeWidth": {"signal": "datum.value === 'PDF(i2d) CHESS−UK' ? 3 : 1"}, "stroke": {"signal": "datum.value === 'PDF(i2d) CHESS−UK' ? '#ff6b6b' : 'black'"}}}}}}
          }
        },
        {
          "mark": {"type": "line", "interpolate": "monotone", "strokeWidth": 1.2},
          "encoding": {
            "x": {"field": "date", "type": "temporal", "scale": {"type": "utc", "domain": [{"year": 2020, "month": 7, "date": 31, "hours": 20, "utc": true}, {"year": 2021, "month": 5, "date": 30, "hours": 21, "minutes": 36, "utc": true}]}, "axis": {"orient": "bottom", "labels": false, "ticks": false, "domain": true, "title": null}},
            "y": {"field": "red", "type": "quantitative", "scale": {"domain": [-10.4, 290.8], "nice": false, "zero": false}, "title": "Incidence infekcí/úmrtí", "axis": {"values": [0, 50, 100, 150, 200, 250], "labelExpr": "datum.value == 100 || datum.value == 200 ? '' : datum.label", "labelOverlap": false, "labelAngle": -90, "labelAlign": "center", "labelBaseline": "alphabetic", "labelPadding": 3, "tickSize": 6, "titlePadding": 4}},
            "color": {"datum": "PDF(i2d) CHESS−UK", "type": "nominal"}
          }
        },
        {
          "data": {"name": "dots"},
          "mark": {"type": "circle", "color": "#ff0000", "size": 20, "opacity": 1},
          "encoding": {
            "x": {"field": "date", "type": "temporal", "scale": {"type": "utc", "domain": [{"year": 2020, "month": 7, "date": 31, "hours": 20, "utc": true}, {"year": 2021, "month": 5, "date": 30, "hours": 21, "minutes": 36, "utc": true}]}, "axis": null},
            "y": {"field": "value", "type": "quantitative", "scale": {"domain": [-10.4, 290.8], "nice": false, "zero": false}, "title": "Incidence infekcí/úmrtí", "axis": {"values": [0, 50, 100, 150, 200, 250], "labelExpr": "datum.value == 100 || datum.value == 200 ? '' : datum.label", "labelOverlap": false, "labelAngle": -90, "labelAlign": "center", "labelBaseline": "alphabetic", "labelPadding": 3, "tickSize": 6, "titlePadding": 4}}
          }
        }
      ]
    },
    {
      "width": 1088,
      "height": 195,
      "data": {"name": "rt"},
      "resolve": {"axis": {"x": "independent"}},
      "layer": [
        {
          "mark": {"type": "area", "color": "#d3d3d3", "interpolate": "monotone"},
          "encoding": {
            "x": {"field": "date", "type": "temporal", "scale": {"type": "utc", "domain": [{"year": 2020, "month": 7, "date": 31, "hours": 20, "utc": true}, {"year": 2021, "month": 5, "date": 30, "hours": 21, "minutes": 36, "utc": true}]}, "axis": {"orient": "top", "tickCount": {"interval": "day", "step": 1}, "labels": false, "tickSize": 3, "domain": true, "title": null}},
            "y": {"field": "olo", "type": "quantitative", "scale": {"domain": [-0.103, 2.597], "nice": false, "zero": false}, "title": "Rt", "axis": {"values": [0, 0.5, 1, 1.5, 2, 2.5], "format": ".1f", "labelOverlap": false, "labelAngle": -90, "labelAlign": "center", "labelBaseline": "alphabetic", "labelPadding": 3, "tickSize": 6, "titlePadding": 4}},
            "y2": {"field": "ohi"}
          }
        },
        {
          "mark": {"type": "area", "color": "#bebebe", "interpolate": "monotone"},
          "encoding": {
            "x": {"field": "date", "type": "temporal", "scale": {"type": "utc", "domain": [{"year": 2020, "month": 7, "date": 31, "hours": 20, "utc": true}, {"year": 2021, "month": 5, "date": 30, "hours": 21, "minutes": 36, "utc": true}]}, "axis": {"orient": "top", "tickCount": {"interval": "month", "step": 1}, "labels": false, "tickSize": 7, "domain": false, "title": null}},
            "y": {"field": "ilo", "type": "quantitative", "scale": {"domain": [-0.103, 2.597], "nice": false, "zero": false}, "title": "Rt", "axis": {"values": [0, 0.5, 1, 1.5, 2, 2.5], "format": ".1f", "labelOverlap": false, "labelAngle": -90, "labelAlign": "center", "labelBaseline": "alphabetic", "labelPadding": 3, "tickSize": 6, "titlePadding": 4}},
            "y2": {"field": "ihi"}
          }
        },
        {
          "data": {"values": [{}]},
          "mark": {"type": "rule", "color": "#0000ff", "strokeWidth": 1},
          "encoding": {
            "y": {"datum": 1, "type": "quantitative", "scale": {"domain": [-0.103, 2.597], "nice": false, "zero": false}, "title": "Rt", "axis": {"values": [0, 0.5, 1, 1.5, 2, 2.5], "format": ".1f", "labelOverlap": false, "labelAngle": -90, "labelAlign": "center", "labelBaseline": "alphabetic", "labelPadding": 3, "tickSize": 6, "titlePadding": 4}}
          }
        },
        {
          "mark": {"type": "line", "interpolate": "monotone", "strokeWidth": 1.2},
          "encoding": {
            "x": {"field": "date", "type": "temporal", "scale": {"type": "utc", "domain": [{"year": 2020, "month": 7, "date": 31, "hours": 20, "utc": true}, {"year": 2021, "month": 5, "date": 30, "hours": 21, "minutes": 36, "utc": true}]}, "axis": {"orient": "top", "values": [{"year": 2020, "month": 8, "date": 16, "hours": 12, "utc": true}, {"year": 2020, "month": 9, "date": 16, "utc": true}, {"year": 2020, "month": 10, "date": 16, "hours": 12, "utc": true}, {"year": 2020, "month": 11, "date": 16, "utc": true}, {"year": 2020, "month": 12, "date": 16, "hours": 12, "utc": true}, {"year": 2021, "month": 1, "date": 16, "hours": 12, "utc": true}, {"year": 2021, "month": 2, "date": 15, "utc": true}, {"year": 2021, "month": 3, "date": 16, "hours": 12, "utc": true}, {"year": 2021, "month": 4, "date": 16, "utc": true}, {"year": 2021, "month": 5, "date": 16, "hours": 12, "utc": true}], "labelExpr": "['Leden','Únor','Březen','Duben','Květen','Červen','Červenec','Srpen','Září','Říjen','Listopad','Prosinec'][utcmonth(datum.value)]", "ticks": false, "domain": false, "labelPadding": 9, "labelBaseline": "alphabetic", "title": null}},
            "y": {"field": "blk", "type": "quantitative", "scale": {"domain": [-0.103, 2.597], "nice": false, "zero": false}, "title": "Rt", "axis": {"values": [0, 0.5, 1, 1.5, 2, 2.5], "format": ".1f", "labelOverlap": false, "labelAngle": -90, "labelAlign": "center", "labelBaseline": "alphabetic", "labelPadding": 3, "tickSize": 6, "titlePadding": 4}},
            "color": {"datum": "PDF(i2d) ÚZIS−CZ", "type": "nominal", "scale": {"domain": ["PDF(i2d) ÚZIS−CZ", "PDF(i2d) CHESS−UK"], "range": ["black", "red"]}, "legend": {"orient": "none", "legendX": 885, "legendY": 7, "title": null, "fillColor": "white", "strokeColor": "black", "padding": 9, "symbolType": "M-1.5,0H1.5", "symbolSize": 324, "symbolStrokeWidth": 1.2, "symbolOffset": 8.5, "labelFontSize": 14, "labelOffset": 17.5, "labelColor": "black", "labelLimit": 300, "rowPadding": 0, "encode": {"symbols": {"update": {"strokeWidth": {"signal": "datum.value === 'PDF(i2d) CHESS−UK' ? 3 : 1"}, "stroke": {"signal": "datum.value === 'PDF(i2d) CHESS−UK' ? '#ff6b6b' : 'black'"}}}}}}
          }
        },
        {
          "mark": {"type": "line", "interpolate": "monotone", "strokeWidth": 1.2},
          "encoding": {
            "x": {"field": "date", "type": "temporal", "scale": {"type": "utc", "domain": [{"year": 2020, "month": 7, "date": 31, "hours": 20, "utc": true}, {"year": 2021, "month": 5, "date": 30, "hours": 21, "minutes": 36, "utc": true}]}, "axis": {"orient": "bottom", "labels": false, "ticks": false, "domain": true, "title": null}},
            "y": {"field": "red", "type": "quantitative", "scale": {"domain": [-0.103, 2.597], "nice": false, "zero": false}, "title": "Rt", "axis": {"values": [0, 0.5, 1, 1.5, 2, 2.5], "format": ".1f", "labelOverlap": false, "labelAngle": -90, "labelAlign": "center", "labelBaseline": "alphabetic", "labelPadding": 3, "tickSize": 6, "titlePadding": 4}},
            "color": {"datum": "PDF(i2d) CHESS−UK", "type": "nominal"}
          }
        }
      ]
    }
  ]
}
